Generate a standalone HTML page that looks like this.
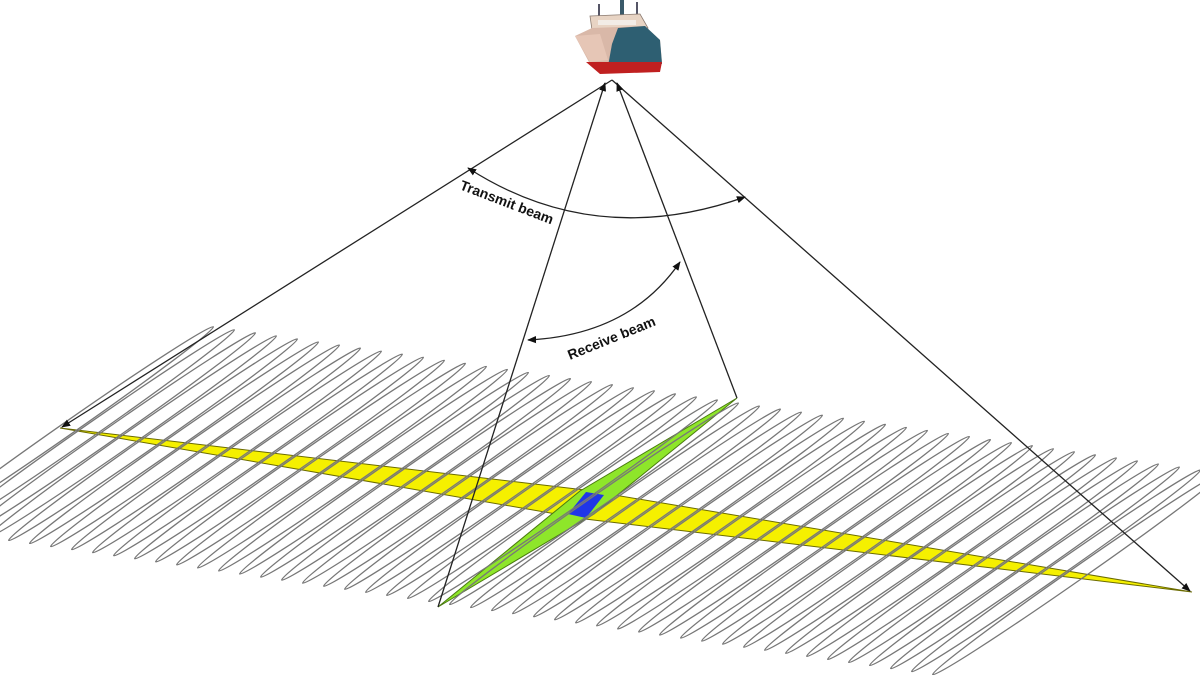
<!DOCTYPE html>
<html><head><meta charset="utf-8"><style>
html,body{margin:0;padding:0;background:#fff;}
svg{display:block;}
text{font-family:"Liberation Sans",sans-serif;font-weight:bold;font-size:14px;fill:#111;}
</style></head><body>
<svg width="1200" height="675" viewBox="0 0 1200 675" xmlns="http://www.w3.org/2000/svg">
<defs>
<ellipse id="l" cx="0" cy="0" rx="176" ry="6.5" transform="rotate(-34.9)" fill="none" stroke="#777" stroke-width="1.3"/>
<marker id="a" viewBox="0 0 10 10" refX="9" refY="5" markerWidth="9" markerHeight="9" orient="auto-start-reverse" markerUnits="userSpaceOnUse"><path d="M0,1 L10,5 L0,9 z" fill="#111"/></marker>
</defs>
<polygon points="60,428 585,490 1192,592 585,519" fill="#f5f000" stroke="#6b6b00" stroke-width="1"/>
<polygon points="438,607 580,491 737,398 594,514" fill="#8ee62a" stroke="#4a7a10" stroke-width="1"/>
<polygon points="568,514 586,492 604,495 586,518" fill="#2036e8"/>
<g>
<use href="#l" x="69" y="427.5"/><use href="#l" x="90" y="430.55"/><use href="#l" x="111" y="433.6"/><use href="#l" x="132" y="436.65"/><use href="#l" x="153" y="439.7"/><use href="#l" x="174" y="442.75"/><use href="#l" x="195" y="445.8"/><use href="#l" x="216" y="448.85"/><use href="#l" x="237" y="451.9"/><use href="#l" x="258" y="454.95"/><use href="#l" x="279" y="458"/><use href="#l" x="300" y="461.05"/><use href="#l" x="321" y="464.1"/><use href="#l" x="342" y="467.15"/><use href="#l" x="363" y="470.2"/><use href="#l" x="384" y="473.25"/><use href="#l" x="405" y="476.3"/><use href="#l" x="426" y="479.35"/><use href="#l" x="447" y="482.4"/><use href="#l" x="468" y="485.45"/><use href="#l" x="489" y="488.5"/><use href="#l" x="510" y="491.55"/><use href="#l" x="531" y="494.6"/><use href="#l" x="552" y="497.65"/><use href="#l" x="573" y="500.7"/><use href="#l" x="594" y="503.75"/><use href="#l" x="615" y="506.8"/><use href="#l" x="636" y="509.85"/><use href="#l" x="657" y="512.9"/><use href="#l" x="678" y="515.95"/><use href="#l" x="699" y="519"/><use href="#l" x="720" y="522.05"/><use href="#l" x="741" y="525.1"/><use href="#l" x="762" y="528.15"/><use href="#l" x="783" y="531.2"/><use href="#l" x="804" y="534.25"/><use href="#l" x="825" y="537.3"/><use href="#l" x="846" y="540.35"/><use href="#l" x="867" y="543.4"/><use href="#l" x="888" y="546.45"/><use href="#l" x="909" y="549.5"/><use href="#l" x="930" y="552.55"/><use href="#l" x="951" y="555.6"/><use href="#l" x="972" y="558.65"/><use href="#l" x="993" y="561.7"/><use href="#l" x="1014" y="564.75"/><use href="#l" x="1035" y="567.8"/><use href="#l" x="1056" y="570.85"/><use href="#l" x="1077" y="573.9"/>
</g>
<g stroke="#222" stroke-width="1.3" fill="none">
<line x1="612" y1="80" x2="62" y2="427" marker-end="url(#a)"/>
<line x1="612" y1="80" x2="1190" y2="591" marker-end="url(#a)"/>
<line x1="438" y1="607" x2="605" y2="83" marker-end="url(#a)"/>
<line x1="737" y1="398" x2="617" y2="83" marker-end="url(#a)"/>
<path d="M468,168 Q595,250 745,197" marker-start="url(#a)" marker-end="url(#a)"/>
<path d="M528,340 Q630,335 680,262" marker-start="url(#a)" marker-end="url(#a)"/>
</g>
<text transform="translate(459,189) rotate(21)">Transmit beam</text>
<text transform="translate(570,360) rotate(-22)">Receive beam</text>
<g>
<rect x="598" y="4" width="2" height="14" fill="#556"/>
<rect x="620" y="0" width="4" height="16" fill="#3a5a6a"/>
<rect x="636" y="2" width="2" height="14" fill="#556"/>
<polygon points="590,16 640,14 648,28 592,30" fill="#e8d4c4" stroke="#8a7a70" stroke-width="0.8"/>
<polygon points="575,36 592,28 645,26 660,40 662,62 590,64" fill="#d9b8a8"/>
<polygon points="618,28 645,26 660,40 662,64 608,66 612,44" fill="#2e5f72"/>
<polygon points="575,36 600,34 608,60 590,62" fill="#e6c6b6"/>
<polygon points="586,62 662,62 660,72 600,74" fill="#c02020"/>
<rect x="598" y="20" width="38" height="5" fill="#f2ece6"/>
</g>
</svg>
</body></html>
